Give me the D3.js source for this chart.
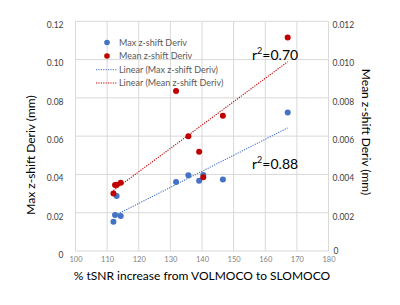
<!DOCTYPE html>
<html lang="en">
<head>
<meta charset="utf-8">
<title>z-shift deriv vs tSNR increase</title>
<script src="https://cdn.jsdelivr.net/npm/d3@7"></script>
<style>
  body { margin: 0; background: #fff; }
  text { font-family: Lato, "Open Sans", sans-serif; }
</style>
</head>
<body>
<script>
// data
var tsnrIncrease = [112.0, 112.5, 113.0, 114.3, 131.8, 135.7, 139.1, 140.4, 146.6, 167.1];
var maxDeriv  = [0.0153, 0.0188, 0.0287, 0.0183, 0.0361, 0.0396, 0.0367, 0.0397, 0.0374, 0.0724];
var meanDeriv = [0.00301, 0.00345, 0.00346, 0.00357, 0.00836, 0.00600, 0.00519, 0.00385, 0.00707, 0.01116];
var xTicks = [100, 110, 120, 130, 140, 150, 160, 170, 180];
var yLeftTicks = [0, 0.02, 0.04, 0.06, 0.08, 0.10, 0.12];
var yRightTicks = [0, 0.002, 0.004, 0.006, 0.008, 0.010, 0.012];
var seriesNames = ["Max z-shift Deriv", "Mean z-shift Deriv"];

var w = 400, h = 305;
var blue = "#4472c4", red = "#c00000";

var svg = d3.select("body").append("svg")
  .attr("width", w).attr("height", h);

// scales
var x = d3.scaleLinear().domain([100, 180]).range([75.5, 328.5]);
var yL = d3.scaleLinear().domain([0, 0.12]).range([251, 21.3]);
var yR = d3.scaleLinear().domain([0, 0.012]).range([251, 21.3]);

// gridlines
svg.append("g").selectAll("line").data(xTicks).enter().append("line")
  .attr("x1", d => x(d)).attr("x2", d => x(d))
  .attr("y1", yL(0)).attr("y2", yL(0.12))
  .attr("stroke", "#d9d9d9").attr("stroke-width", 1);
svg.append("g").selectAll("line").data(yLeftTicks).enter().append("line")
  .attr("x1", x(100)).attr("x2", x(180))
  .attr("y1", d => yL(d)).attr("y2", d => yL(d))
  .attr("stroke", "#d9d9d9").attr("stroke-width", 1);

// axes (labels only)
var fmt = function(d) { return d === 0 ? "0" : d3.format(".2f")(d); };
var fmtR = function(d) { return d === 0 ? "0" : d3.format(".3f")(d); };

var axL = svg.append("g").attr("transform", "translate(" + x(100) + ",0)")
  .call(d3.axisLeft(yL).tickValues(yLeftTicks).tickFormat(fmt).tickSize(0).tickPadding(12));
var axR = svg.append("g").attr("transform", "translate(" + x(180) + ",0)")
  .call(d3.axisRight(yR).tickValues(yRightTicks).tickFormat(fmtR).tickSize(0).tickPadding(4));
var axB = svg.append("g").attr("transform", "translate(0," + yL(0) + ")")
  .call(d3.axisBottom(x).tickValues(xTicks).tickFormat(d3.format("d")).tickSize(0).tickPadding(6));

[axL, axR, axB].forEach(function(a) { a.select(".domain").remove(); });
axL.selectAll("text").attr("font-size", 8.5).attr("fill", "#404040").attr("dy", "0.75em");
axR.selectAll("text").attr("font-size", 8.5).attr("fill", "#404040").attr("dy", "0.75em");
axB.selectAll("text").attr("font-size", 7.5).attr("fill", "#7f7f7f");
// the right "0" sits just above the "180" label, as in the reference
axR.selectAll(".tick").filter(d => d === 0).select("text").attr("dy", "0.35em").attr("x", 5);

// regression
function linreg(xs, ys) {
  var mx = d3.mean(xs), my = d3.mean(ys);
  var sxy = 0, sxx = 0, syy = 0;
  xs.forEach(function(v, i) {
    sxy += (v - mx) * (ys[i] - my);
    sxx += (v - mx) * (v - mx);
    syy += (ys[i] - my) * (ys[i] - my);
  });
  var b = sxy / sxx;
  return { b: b, a: my - b * mx, r2: sxy * sxy / (sxx * syy) };
}
var fitMax = linreg(tsnrIncrease, maxDeriv);
var fitMean = linreg(tsnrIncrease, meanDeriv);
var xr = d3.extent(tsnrIncrease);

function trend(fit, scale, color) {
  svg.append("line")
    .attr("x1", x(xr[0])).attr("y1", scale(fit.a + fit.b * xr[0]))
    .attr("x2", x(xr[1])).attr("y2", scale(fit.a + fit.b * xr[1]))
    .attr("stroke", color).attr("stroke-width", 1.1)
    .attr("stroke-dasharray", "1.2,1.2");
}
trend(fitMax, yL, blue);
trend(fitMean, yR, red);

// points
svg.append("g").selectAll("circle").data(tsnrIncrease).enter().append("circle")
  .attr("cx", d => x(d)).attr("cy", (d, i) => yL(maxDeriv[i]))
  .attr("r", 3).attr("fill", blue);
svg.append("g").selectAll("circle").data(tsnrIncrease).enter().append("circle")
  .attr("cx", d => x(d)).attr("cy", (d, i) => yR(meanDeriv[i]))
  .attr("r", 3).attr("fill", red);

// r^2 labels
function r2Label(fit, xp, yp) {
  var t = svg.append("text").attr("x", xp).attr("y", yp)
    .attr("font-size", 14).attr("fill", "#000");
  t.append("tspan").text("r");
  t.append("tspan").text("2").attr("font-size", 9).attr("dy", -6);
  t.append("tspan").text("=" + fit.r2.toFixed(2)).attr("dy", 6);
}
r2Label(fitMean, 252, 60);
r2Label(fitMax, 252, 169);

// legend
var lg = svg.append("g").attr("font-size", 9).attr("fill", "#595959");
[[blue, 42.5], [red, 56]].forEach(function(p, i) {
  lg.append("circle").attr("cx", 107).attr("cy", p[1]).attr("r", 2.8).attr("fill", p[0]);
  lg.append("text").attr("x", 119).attr("y", p[1]).attr("dy", "0.35em").text(seriesNames[i]);
});
[[blue, 69.7], [red, 83]].forEach(function(p, i) {
  lg.append("line").attr("x1", 96).attr("x2", 117).attr("y1", p[1]).attr("y2", p[1])
    .attr("stroke", p[0]).attr("stroke-width", 1).attr("stroke-dasharray", "1.2,1.2");
  lg.append("text").attr("x", 119).attr("y", p[1]).attr("dy", "0.35em")
    .text("Linear (" + seriesNames[i] + ")");
});

// axis titles
svg.append("text").attr("transform", "translate(31,155) rotate(-90)")
  .attr("text-anchor", "middle").attr("dy", "0.35em").attr("font-size", 12).attr("fill", "#000")
  .text("Max z-shift Deriv (mm)");
svg.append("text").attr("transform", "translate(366,132) rotate(90)")
  .attr("text-anchor", "middle").attr("dy", "0.35em").attr("font-size", 12).attr("fill", "#000")
  .text("Mean z-shift Deriv (mm)");
svg.append("text").attr("x", 202).attr("y", 280)
  .attr("text-anchor", "middle").attr("font-size", 12).attr("fill", "#000")
  .text("% tSNR increase from VOLMOCO to SLOMOCO");
</script>
</body>
</html>
